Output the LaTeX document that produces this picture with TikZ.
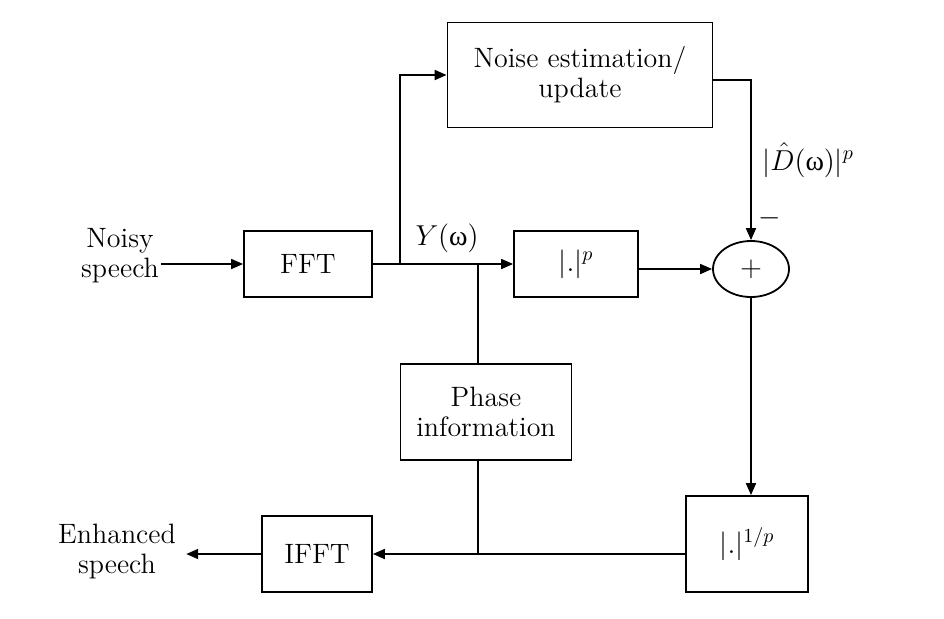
\documentclass[tikz,border=0pt]{standalone}
\usepackage{fontspec}
\usetikzlibrary{arrows.meta,shapes.geometric}
\newfontfamily\grkfont{Liberation Serif}
\tikzset{
	blk/.style={draw, line width=0.9pt, inner sep=0pt, align=center},
	lbl/.style={inner sep=1pt, align=center},
	arr/.style={-{Triangle[length=6pt,width=5pt]}},
	ln/.style={line width=0.9pt}
}

\begin{document}
\begin{tikzpicture}[x=0.5pt, y=-0.5pt, font=\fontsize{14pt}{15pt}\selectfont]
		%%%%% START %%%%%
		\useasboundingbox (0,0) rectangle (944,618);
		
		% blocks
		\node[blk, minimum width=132.5pt, minimum height=52.5pt] (noise) at (580,75) {Noise estimation/\\update};
		\node[blk, minimum width=64pt, minimum height=33pt] (fft) at (308,264) {FFT};
		\node[blk, minimum width=62pt, minimum height=33pt] (pow) at (576,264) {$|.|^{p}$};
		\node[draw, ellipse, line width=0.9pt, minimum width=38pt, minimum height=28pt, inner sep=0pt] (sum) at (751,269) {$+$};
		\node[blk, minimum width=85.5pt, minimum height=48pt] (phase) at (486,412) {Phase\\information};
		\node[blk, minimum width=55pt, minimum height=38pt] (ifft) at (317,554) {IFFT};
		\node[blk, minimum width=61pt, minimum height=48pt] (root) at (747,544) {$|.|^{1/p}$};
		
		% texts
		\node[lbl] (noisy) at (120,256) {Noisy\\speech};
		\node[lbl] (enh) at (117,551) {Enhanced\\speech};
		\node[lbl] (ylbl) at (447,238) {$Y(\mbox{\grkfont ω})$};
		\node[lbl, anchor=west] (dlbl) at (760,160) {$|\hat{D}(\mbox{\grkfont ω})|^{p}$};
		\node[lbl] (minus) at (770,218) {$-$};
		
		% branch points
		\coordinate (split1) at (400,264);
		\coordinate (split2) at (478,264);
		\coordinate (join) at (478,554);
		
		% connectors
		\draw[ln, arr] (noisy.east |- fft.west) -- (fft.west);
		\draw[ln, arr] (fft.east) -- (pow.west);
		\draw[ln, arr] (split1) |- (noise.west);
		\draw[ln] (split2) -- (split2 |- phase.north);
		\draw[ln, arr] (sum.west -| pow.east) -- (sum.west);
		\draw[ln, arr] ([yshift=-2.5pt]noise.east) -| (sum.north);
		\draw[ln, arr] (sum.south) -- (sum.south |- root.north);
		\draw[ln, arr] (ifft.east -| root.west) -- (ifft.east);
		\draw[ln] (join |- phase.south) -- (join);
		\draw[ln, arr] (ifft.west) -- ([xshift=4pt]enh.east |- ifft.west);
		
		%%%%% END %%%%%
	\end{tikzpicture}
\end{document}
